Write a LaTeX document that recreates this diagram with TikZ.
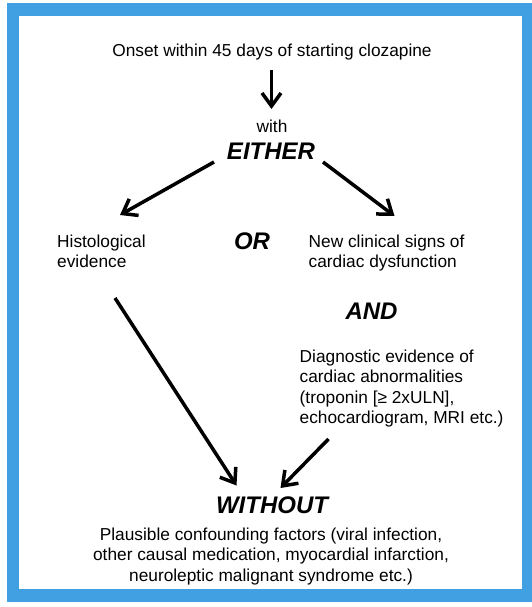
\documentclass[tikz,border=0pt]{standalone}
\usepackage{fontspec}
\setmainfont{Liberation Sans}
\usetikzlibrary{arrows.meta}
\definecolor{frameblue}{RGB}{65,160,225}
\begin{document}
\begin{tikzpicture}[x=1pt,y=-1pt,
  txt/.style={font=\fontsize{17.3}{20.5}\selectfont, inner sep=0pt},
  big/.style={font=\fontsize{24}{28}\selectfont\bfseries\itshape, inner sep=0pt},
  arr/.style={line width=3.5pt, -{Straight Barb[length=13pt,width=19pt]}}]
\useasboundingbox (0,0) rectangle (531,607);
\fill[frameblue] (7,3) rectangle (540,602);
\fill[white] (18.6,16) rectangle (521.5,589);
% texts
\node[txt] (onset) at (272,52.5) {Onset within 45 days of starting clozapine};
\node[txt] (with) at (272,126) {with};
\node[big] (either) at (271,151.5) {EITHER};
\node[txt, anchor=north west, align=left] (histo) at (57,234.5) {Histological\\evidence};
\node[big] (or) at (252,241) {OR};
\node[txt, anchor=north west, align=left] (newclin) at (308.5,234.5) {New clinical signs of\\cardiac dysfunction};
\node[big] (and) at (371.5,311) {AND};
\node[txt, anchor=north west, align=left] (diag) at (299.5,349.5) {Diagnostic evidence of\\cardiac abnormalities\\(troponin [≥ 2xULN],\\echocardiogram, MRI etc.)};
\node[big] (without) at (272,505.5) {WITHOUT};
\node[txt, anchor=north, align=center] (confound) at (271,527.5) {Plausible confounding factors (viral infection,\\other causal medication, myocardial infarction,\\neuroleptic malignant syndrome etc.)};
% arrow end points
\coordinate (dA) at (271.5,70);
\coordinate (dB) at (271.5,109);
\coordinate (lA) at (214,162);
\coordinate (lB) at (120,215);
\coordinate (rA) at (323,162);
\coordinate (rB) at (394.5,216);
\coordinate (hA) at (115,298);
\coordinate (hB) at (236.5,485.5);
\coordinate (gA) at (328.5,439);
\coordinate (gB) at (280.5,488);
\draw[arr] (dA) -- (dB);
\draw[arr] (lA) -- (lB);
\draw[arr] (rA) -- (rB);
\draw[arr] (hA) -- (hB);
\draw[arr] (gA) -- (gB);
\end{tikzpicture}
\end{document}
